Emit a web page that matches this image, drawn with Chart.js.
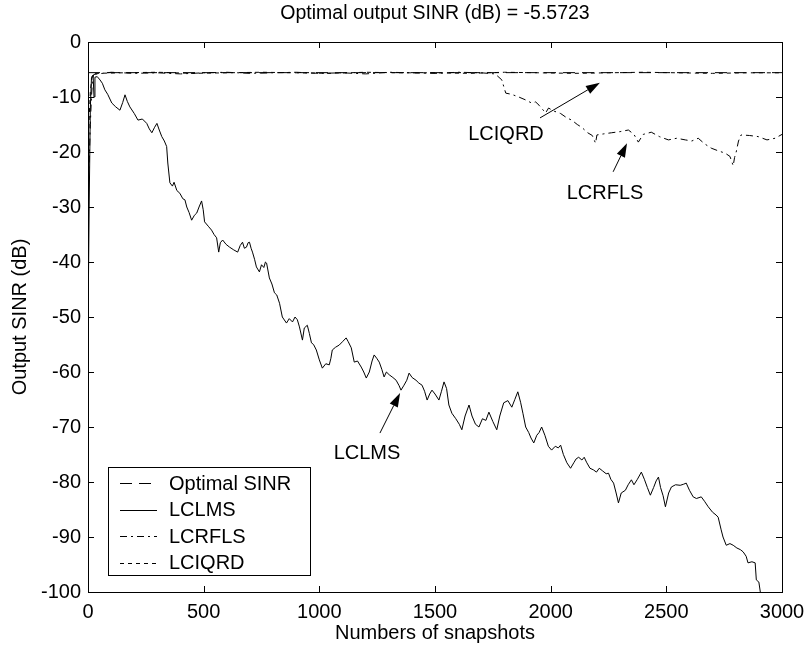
<!DOCTYPE html>
<html>
<head>
<meta charset="utf-8">
<script src="https://cdn.jsdelivr.net/npm/chart.js@4/dist/chart.umd.min.js"></script>
<style>
  html, body { margin: 0; padding: 0; background: #fff; }
  #wrap { width: 807px; height: 649px; }
</style>
</head>
<body>
<div id="wrap"><canvas id="chart" width="807" height="649"></canvas></div>
<script>
// values: [snapshot, SINR dB]
const optimalSinr = -5.5723;
const optimalPts = [[0, optimalSinr], [3000, optimalSinr]];

const lclmsPts = [
  [0,-52],[5,-30],[10,-12],[15,-6.5],[22,-6.0],[26,-10],[30,-6.4],[40,-6.3],[52,-6.9],[62,-7.5],
  [73,-8.7],[85,-9.5],[103,-11.1],[120,-11.8],[138,-12.4],[150,-11],[160,-9.6],[170,-10.8],[181,-11.8],
  [200,-13.0],[216,-14.2],[235,-14.0],[254,-14.8],[265,-15.8],[276,-16.5],[288,-15.5],[298,-14.8],
  [308,-16],[319,-17.2],[330,-18],[340,-19],[345,-22],[350,-24],[354,-25.6],[365,-26.2],[372,-25.5],
  [384,-27],[397,-27.5],[410,-28.5],[419,-28.7],[427,-30],[437,-31],[448,-32.4],[460,-31.5],[470,-31.1],
  [480,-30],[491,-28.9],[498,-30.5],[504,-32.7],[520,-33.5],[534,-34.2],[545,-35],[556,-35.6],[565,-38.2],
  [572,-36.5],[582,-36],[597,-36.8],[612,-37.3],[630,-37.8],[647,-38.2],[658,-37],[668,-36.4],[676,-37.5],
  [685,-37.3],[692,-36.5],[698,-36.4],[705,-37.5],[711,-38.2],[720,-39.5],[728,-40.9],[741,-41.8],
  [750,-40.5],[760,-41],[767,-40],[772,-40.2],[784,-42.9],[795,-44],[806,-45.6],[816,-46],[828,-47.5],
  [840,-50],[858,-51.1],[870,-50.3],[884,-50.9],[895,-50],[905,-50.5],[914,-51.8],[927,-54.2],[935,-52],
  [948,-51.5],[957,-53],[966,-54.7],[975,-55],[987,-56],[1000,-57.8],[1013,-59.3],[1028,-58.5],
  [1043,-58.7],[1050,-57.5],[1056,-56],[1070,-55.5],[1086,-55.1],[1100,-54.5],[1116,-53.8],[1125,-54.5],
  [1138,-55.6],[1151,-58.2],[1165,-58],[1181,-59.1],[1192,-60],[1203,-61.1],[1216,-60],[1228,-58],
  [1237,-56.9],[1248,-57.5],[1259,-58.2],[1270,-59.5],[1280,-60.9],[1290,-60],[1302,-60.5],[1318,-61],
  [1332,-61.5],[1345,-62.5],[1353,-63.3],[1366,-62.4],[1378,-61.5],[1388,-60.2],[1401,-61],[1418,-61.5],
  [1430,-62],[1444,-62.4],[1455,-63.5],[1466,-65.1],[1477,-64],[1487,-63.3],[1500,-64],[1517,-65.1],
  [1528,-63.5],[1539,-61.8],[1550,-63],[1560,-66],[1573,-67.5],[1590,-68.5],[1605,-69.5],[1616,-70.5],
  [1630,-68],[1647,-66],[1660,-68],[1675,-69.5],[1690,-70],[1705,-68.5],[1720,-68.8],[1733,-67.3],
  [1750,-69],[1767,-70.5],[1780,-68],[1797,-65.6],[1815,-65.2],[1832,-66.4],[1845,-65],[1858,-63.6],
  [1870,-65.5],[1880,-67.5],[1892,-70],[1905,-71],[1915,-72],[1927,-72.9],[1940,-71.5],[1950,-71],
  [1961,-70],[1975,-71.5],[1990,-73.5],[2004,-74.2],[2020,-73.5],[2033,-73.8],[2043,-73.3],[2055,-75],
  [2070,-76.5],[2086,-77.5],[2100,-76.5],[2110,-75.8],[2121,-75.5],[2135,-76],[2145,-75.5],[2155,-76.4],
  [2170,-77.5],[2185,-77.8],[2198,-78.2],[2210,-77.5],[2225,-78],[2240,-78.5],[2250,-78.4],[2260,-79.5],
  [2272,-80.2],[2283,-82],[2293,-83.8],[2305,-82],[2323,-81.5],[2335,-80.5],[2349,-79.6],[2360,-80.5],
  [2375,-79.5],[2392,-78.2],[2405,-79.5],[2418,-81],[2431,-82.4],[2445,-81],[2456,-79.8],[2466,-79.1],
  [2475,-81],[2486,-82.5],[2496,-84.5],[2510,-82],[2522,-80.9],[2540,-80.5],[2560,-80.6],[2575,-80.4],
  [2586,-80.2],[2600,-81.5],[2616,-82.7],[2630,-83],[2651,-82.7],[2665,-83.5],[2681,-84.5],[2700,-85.5],
  [2715,-86],[2724,-86.4],[2737,-88.7],[2745,-90],[2759,-91.5],[2775,-91.2],[2789,-91.5],[2805,-92],
  [2820,-92.3],[2832,-92.7],[2845,-93.5],[2853,-94.7],[2870,-94.5],[2884,-94.7],[2889,-97.8],[2900,-98.2],
  [2908,-100.5]
];

const lcrflsPts = [
  [0,-25],[5,-22],[10,-15],[15,-10],[20,-6.5],[25,-5.9],[100,-5.5],[200,-5.7],[300,-5.6],[400,-5.8],
  [500,-5.6],[600,-5.5],[700,-5.7],[800,-5.6],[900,-5.5],[1000,-5.7],[1100,-5.6],[1200,-5.8],[1300,-5.5],
  [1400,-5.6],[1500,-5.7],[1600,-5.5],[1700,-5.6],[1760,-5.8],[1789,-6.9],[1800,-8.5],[1806,-9.3],
  [1830,-9.5],[1862,-10],[1890,-10.5],[1918,-11.1],[1935,-10.9],[1950,-11.5],[1978,-12.9],[1991,-12],
  [2010,-12.5],[2043,-13],[2070,-13.8],[2091,-14.2],[2115,-15],[2134,-15.5],[2160,-16.5],[2180,-17],
  [2194,-18.4],[2200,-16.9],[2230,-16.7],[2263,-16.5],[2300,-16.3],[2336,-16],[2360,-16.8],[2379,-18.2],
  [2400,-16.8],[2435,-16.4],[2470,-17.2],[2509,-17.8],[2545,-17.5],[2582,-17.8],[2610,-18],[2638,-17.5],
  [2665,-18.5],[2694,-19.3],[2725,-19.8],[2754,-20.2],[2775,-20.8],[2789,-22.5],[2795,-21],[2802,-20],
  [2812,-18],[2823,-16.9],[2860,-17],[2897,-17.2],[2935,-17.8],[2970,-17.5],[3000,-16.8]
];

const lciqrdPts = [
  [0,-20],[5,-14],[10,-9],[18,-6.2],[30,-5.7],[150,-5.6],[300,-5.5],[450,-5.7],[600,-5.6],[750,-5.5],
  [900,-5.6],[1050,-5.7],[1200,-5.5],[1350,-5.6],[1500,-5.6],[1650,-5.7],[1800,-5.5],[1950,-5.6],
  [2100,-5.7],[2250,-5.6],[2400,-5.5],[2550,-5.6],[2700,-5.7],[2850,-5.6],[3000,-5.6]
];

const xTicks = [0, 500, 1000, 1500, 2000, 2500, 3000];
const yTicks = [0, -10, -20, -30, -40, -50, -60, -70, -80, -90, -100];
const titleText = 'Optimal output SINR (dB) = -5.5723';

// annotation labels with arrows: [text, labelX, labelY, tailX, tailY, headX, headY] in data units
const notes = [
  ['LCIQRD', 1807, -16.9, 1954, -13.8, 2213, -7.4],
  ['LCRFLS', 2235, -27.6, 2270, -23.6, 2330, -18.4],
  ['LCLMS', 1206, -74.8, 1262, -71.1, 1349, -63.8]
];

const toXY = pts => pts.map(p => ({x: p[0], y: p[1]}));
const FONT = '"Liberation Sans", Arial, sans-serif';

Chart.defaults.font.family = FONT;
Chart.defaults.color = '#000';

// title over the axes, frame, inner ticks, legend box and arrows, drawn matlab-like
const matlabDecor = {
  id: 'matlabDecor',
  afterDraw(chart) {
    const ctx = chart.ctx;
    const a = chart.chartArea;
    const xs = chart.scales.x, ys = chart.scales.y;
    ctx.save();
    ctx.strokeStyle = '#000';
    ctx.fillStyle = '#000';
    ctx.lineWidth = 1;
    ctx.setLineDash([]);

    ctx.font = '19.5px ' + FONT;
    ctx.textAlign = 'center';
    ctx.textBaseline = 'middle';
    ctx.fillText(titleText, (a.left + a.right) / 2, 14);

    ctx.strokeRect(Math.round(a.left) + 0.5, Math.round(a.top) + 0.5,
      Math.round(a.right - a.left), Math.round(a.bottom - a.top));

    // inner ticks
    const tl = 6;
    ctx.beginPath();
    xTicks.forEach(v => {
      const px = Math.round(xs.getPixelForValue(v)) + 0.5;
      ctx.moveTo(px, a.bottom); ctx.lineTo(px, a.bottom - tl);
      ctx.moveTo(px, a.top); ctx.lineTo(px, a.top + tl);
    });
    yTicks.forEach(v => {
      const py = Math.round(ys.getPixelForValue(v)) + 0.5;
      ctx.moveTo(a.left, py); ctx.lineTo(a.left + tl, py);
      ctx.moveTo(a.right, py); ctx.lineTo(a.right - tl, py);
    });
    ctx.stroke();

    // legend box
    const lx = 108, ly = 467, lw = 202, lh = 108;
    ctx.fillStyle = '#fff';
    ctx.fillRect(lx, ly, lw, lh);
    ctx.strokeRect(lx + 0.5, ly + 0.5, lw, lh);
    ctx.font = '20px ' + FONT;
    ctx.textAlign = 'left';
    ctx.fillStyle = '#000';
    chart.data.datasets.forEach((ds, i) => {
      const yy = ly + 16 + i * 26.5;
      ctx.beginPath();
      ctx.setLineDash(ds.borderDash || []);
      ctx.moveTo(120, Math.round(yy) + 0.5);
      ctx.lineTo(157, Math.round(yy) + 0.5);
      ctx.stroke();
      ctx.setLineDash([]);
      ctx.fillText(ds.label, 169, yy + 1);
    });

    // labels and arrows
    notes.forEach(n => {
      const tx = xs.getPixelForValue(n[1]), ty = ys.getPixelForValue(n[2]);
      ctx.textAlign = 'center';
      ctx.fillText(n[0], tx, ty);
      const x0 = xs.getPixelForValue(n[3]), y0 = ys.getPixelForValue(n[4]);
      const x1 = xs.getPixelForValue(n[5]), y1 = ys.getPixelForValue(n[6]);
      const ang = Math.atan2(y1 - y0, x1 - x0);
      const hl = 14, hw = 4.5;
      ctx.beginPath();
      ctx.moveTo(x0, y0);
      ctx.lineTo(x1 - hl * Math.cos(ang), y1 - hl * Math.sin(ang));
      ctx.stroke();
      ctx.beginPath();
      ctx.moveTo(x1, y1);
      ctx.lineTo(x1 - hl * Math.cos(ang) + hw * Math.sin(ang), y1 - hl * Math.sin(ang) - hw * Math.cos(ang));
      ctx.lineTo(x1 - hl * Math.cos(ang) - hw * Math.sin(ang), y1 - hl * Math.sin(ang) + hw * Math.cos(ang));
      ctx.closePath();
      ctx.fill();
    });
    ctx.restore();
  }
};

const lineStyle = {
  borderColor: '#000',
  borderWidth: 1,
  pointRadius: 0,
  tension: 0,
  fill: false
};

new Chart(document.getElementById('chart'), {
  type: 'line',
  data: {
    datasets: [
      Object.assign({label: 'Optimal SINR', data: toXY(optimalPts), borderDash: [12, 7]}, lineStyle),
      Object.assign({label: 'LCLMS', data: toXY(lclmsPts)}, lineStyle),
      Object.assign({label: 'LCRFLS', data: toXY(lcrflsPts), borderDash: [7, 4, 2, 4]}, lineStyle),
      Object.assign({label: 'LCIQRD', data: toXY(lciqrdPts), borderDash: [4, 4]}, lineStyle)
    ]
  },
  options: {
    responsive: false,
    animation: false,
    layout: { padding: { top: 42, right: 25, bottom: 0, left: 0 } },
    plugins: {
      legend: { display: false },
      tooltip: { enabled: false },
      title: { display: false }
    },
    scales: {
      x: {
        type: 'linear',
        min: 0,
        max: 3000,
        afterFit(scale) {
          scale.height = 57;
          scale.paddingLeft = 0;
          scale.paddingRight = 0;
        },
        afterBuildTicks(scale) { scale.ticks = xTicks.map(v => ({value: v})); },
        grid: { display: false, drawTicks: false },
        border: { display: false },
        ticks: { font: { size: 20 }, padding: 8, maxRotation: 0, autoSkip: false, callback: v => String(v) },
        title: { display: true, text: 'Numbers of snapshots', font: { size: 20 }, padding: { top: 0, bottom: 4 } }
      },
      y: {
        type: 'linear',
        min: -100,
        max: 0,
        afterFit(scale) {
          scale.width = 88;
          scale.paddingTop = 0;
          scale.paddingBottom = 0;
        },
        afterBuildTicks(scale) { scale.ticks = yTicks.map(v => ({value: v})); },
        grid: { display: false, drawTicks: false },
        border: { display: false },
        ticks: { font: { size: 20 }, padding: 7, autoSkip: false, callback: v => String(v) },
        title: { display: true, text: 'Output SINR (dB)', font: { size: 20 }, padding: { top: 8, bottom: 0 } }
      }
    }
  },
  plugins: [matlabDecor]
});
</script>
</body>
</html>
